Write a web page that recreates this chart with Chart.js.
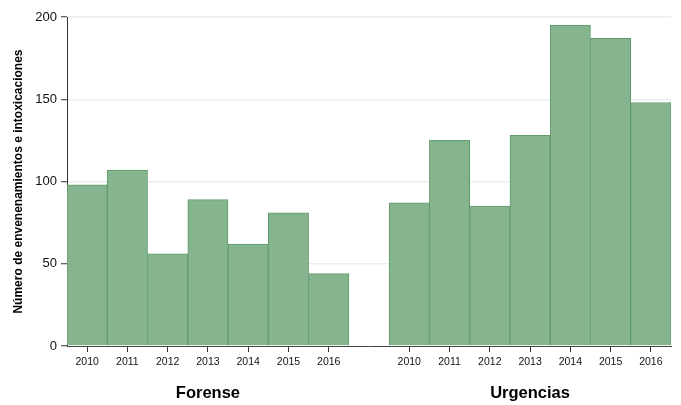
<!DOCTYPE html>
<html>
<head>
<meta charset="utf-8">
<script src="https://cdn.jsdelivr.net/npm/chart.js@4.4.1/dist/chart.umd.min.js"></script>
<style>
html,body{margin:0;padding:0;background:#fff;}
#wrap{width:681px;height:405px;position:relative;}
</style>
</head>
<body>
<div id="wrap"><canvas id="c" width="681" height="405"></canvas></div>
<script>
const years = ['2010','2011','2012','2013','2014','2015','2016'];
const groups = ['Forense','Urgencias'];
const forense = [98, 107, 56, 89, 62, 81, 44];
const urgencias = [87, 125, 85, 128, 195, 187, 148];
const yTicks = [0, 50, 100, 150, 200];
const yTitle = 'Número de envenenamientos e intoxicaciones';

const labels = years.concat([''], years);
const values = forense.concat([null], urgencias);
const FONT = '"Liberation Sans", Arial, Helvetica, sans-serif';

const groupLabels = {
  id: 'groupLabels',
  afterDraw(chart) {
    const x = chart.scales.x;
    const ctx = chart.ctx;
    ctx.save();
    ctx.font = 'bold 16.5px ' + FONT;
    ctx.fillStyle = '#000';
    ctx.textAlign = 'center';
    ctx.textBaseline = 'middle';
    const n = years.length;
    const c1 = (x.getPixelForValue(0) + x.getPixelForValue(n - 1)) / 2;
    const c2 = (x.getPixelForValue(n + 1) + x.getPixelForValue(2 * n)) / 2;
    ctx.fillText(groups[0], c1, 393);
    ctx.fillText(groups[1], c2, 393);
    ctx.restore();
  }
};

new Chart(document.getElementById('c'), {
  type: 'bar',
  data: {
    labels: labels,
    datasets: [{
      data: values,
      backgroundColor: 'rgb(133,180,143)',
      borderColor: 'rgb(96,156,108)',
      borderWidth: 1,
      barPercentage: 1,
      categoryPercentage: 1
    }]
  },
  options: {
    responsive: false,
    animation: false,
    layout: { padding: { left: 0, right: 10, top: 17, bottom: 0 } },
    plugins: { legend: { display: false }, tooltip: { enabled: false } },
    scales: {
      x: {
        grid: {
          offset: false,
          drawOnChartArea: false,
          tickLength: 6,
          tickColor: (ctx) => (labels[ctx.index] === '' ? 'rgba(0,0,0,0)' : '#333'),
          lineWidth: 1
        },
        border: { color: '#444', width: 1 },
        ticks: {
          font: { family: FONT, size: 10.5 },
          color: '#111',
          padding: 4,
          maxRotation: 0,
          autoSkip: false
        },
        afterFit(s) { s.height = 59; }
      },
      y: {
        min: 0,
        max: 200,
        afterBuildTicks(s) { s.ticks = yTicks.map(v => ({ value: v })); },
        grid: {
          color: (ctx) => (ctx.tick && ctx.tick.value === 0 ? 'rgba(0,0,0,0)' : '#e9efec'),
          lineWidth: 1.5,
          tickColor: '#333',
          tickLength: 6,
          tickWidth: 1
        },
        border: { color: '#333', width: 1 },
        ticks: {
          font: { family: FONT, size: 13 },
          color: '#111',
          padding: 4
        },
        title: {
          display: true,
          text: yTitle,
          font: { family: FONT, size: 12, weight: 'bold' },
          color: '#000',
          padding: { top: 11, bottom: 0 }
        },
        afterFit(s) { s.width = 67; }
      }
    }
  },
  plugins: [groupLabels]
});
</script>
</body>
</html>
